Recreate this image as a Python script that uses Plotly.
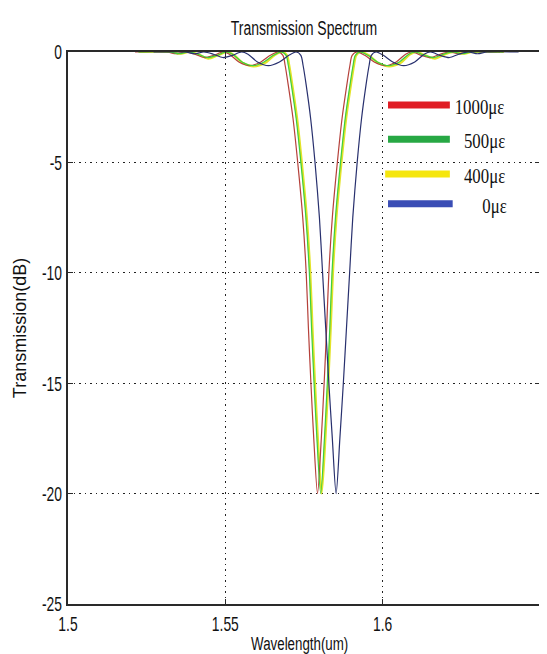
import plotly.graph_objects as go

# ---- data ----
wl_1000 = [1.5213, 1.5313, 1.5343, 1.5373, 1.5403, 1.5433, 1.5463, 1.5493, 1.5513, 1.5543,
           1.5578, 1.5613, 1.5643, 1.5668, 1.5683, 1.5690, 1.5700, 1.5715, 1.5730, 1.5746,
           1.5757, 1.5764, 1.5772, 1.5781, 1.5793, 1.5805, 1.5814, 1.5822, 1.5829, 1.5840,
           1.5856, 1.5871, 1.5886, 1.5896, 1.5903, 1.5918, 1.5943, 1.5973, 1.6008, 1.6043,
           1.6073, 1.6093, 1.6123, 1.6153, 1.6183, 1.6213, 1.6243, 1.6273, 1.6373]
wl_500 = [1.5223, 1.5323, 1.5353, 1.5383, 1.5413, 1.5443, 1.5473, 1.5503, 1.5523, 1.5553,
          1.5588, 1.5623, 1.5653, 1.5678, 1.5693, 1.5700, 1.5710, 1.5725, 1.5740, 1.5756,
          1.5767, 1.5774, 1.5782, 1.5791, 1.5803, 1.5815, 1.5824, 1.5832, 1.5839, 1.5850,
          1.5866, 1.5881, 1.5896, 1.5906, 1.5913, 1.5928, 1.5953, 1.5983, 1.6018, 1.6053,
          1.6083, 1.6103, 1.6133, 1.6163, 1.6193, 1.6223, 1.6253, 1.6283, 1.6383]
wl_400 = [1.5226, 1.5326, 1.5356, 1.5386, 1.5416, 1.5446, 1.5476, 1.5506, 1.5526, 1.5556,
          1.5591, 1.5626, 1.5656, 1.5681, 1.5696, 1.5703, 1.5713, 1.5728, 1.5743, 1.5759,
          1.5770, 1.5777, 1.5785, 1.5794, 1.5806, 1.5818, 1.5827, 1.5835, 1.5842, 1.5853,
          1.5869, 1.5884, 1.5899, 1.5909, 1.5916, 1.5931, 1.5956, 1.5986, 1.6021, 1.6056,
          1.6086, 1.6106, 1.6136, 1.6166, 1.6196, 1.6226, 1.6256, 1.6286, 1.6386]
wl_0 = [1.5272, 1.5372, 1.5402, 1.5432, 1.5462, 1.5492, 1.5522, 1.5552, 1.5572, 1.5602,
        1.5637, 1.5672, 1.5702, 1.5725, 1.5740, 1.5747, 1.5757, 1.5771, 1.5785, 1.5799,
        1.5809, 1.5819, 1.5829, 1.5840, 1.5852, 1.5864, 1.5875, 1.5885, 1.5895, 1.5905,
        1.5919, 1.5933, 1.5947, 1.5957, 1.5964, 1.5979, 1.6002, 1.6032, 1.6067, 1.6102,
        1.6132, 1.6152, 1.6182, 1.6212, 1.6242, 1.6272, 1.6302, 1.6332, 1.6432]

db_1000 = [0, 0, -0.08, 0, -0.1, -0.25, -0.15, 0, -0.1, -0.45, -0.62, -0.45, -0.15, 0, -0.15,
           -0.6, -1.5, -3, -5, -7.5, -10, -12.5, -15, -17.5, -20, -17.5, -15, -12.5, -10, -7.5,
           -5, -3, -1.5, -0.6, -0.15, 0, -0.15, -0.45, -0.62, -0.45, -0.1, 0, -0.15, -0.25,
           -0.1, 0, -0.08, 0, 0]
db_500 = [0, 0, -0.08, 0, -0.1, -0.25, -0.15, 0, -0.1, -0.45, -0.62, -0.45, -0.15, 0, -0.15,
          -0.6, -1.5, -3, -5, -7.5, -10, -12.5, -15, -17.5, -20, -17.5, -15, -12.5, -10, -7.5,
          -5, -3, -1.5, -0.6, -0.15, 0, -0.15, -0.45, -0.62, -0.45, -0.1, 0, -0.15, -0.25,
          -0.1, 0, -0.08, 0, 0]
db_400 = [0, 0, -0.08, 0, -0.12, -0.3, -0.15, 0, -0.12, -0.5, -0.65, -0.5, -0.15, 0, -0.15,
          -0.6, -1.5, -3, -5, -7.5, -10, -12.5, -15, -17.5, -20, -17.5, -15, -12.5, -10, -7.5,
          -5, -3, -1.5, -0.6, -0.15, 0, -0.15, -0.5, -0.65, -0.5, -0.12, 0, -0.15, -0.3,
          -0.12, 0, -0.08, 0, 0]
db_0 = [0, 0, -0.08, 0, -0.1, -0.25, -0.15, 0, -0.1, -0.45, -0.62, -0.45, -0.15, 0, -0.15,
        -0.6, -1.5, -3, -5, -7.5, -10, -12.5, -15, -17.5, -20, -17.5, -15, -12.5, -10, -7.5,
        -5, -3, -1.5, -0.6, -0.15, 0, -0.15, -0.45, -0.62, -0.45, -0.1, 0, -0.15, -0.25,
        -0.1, 0, -0.08, 0, 0]

x_ticks = [1.5, 1.55, 1.6, 1.65]
x_tick_labels = ["1.5", "1.55", "1.6", "1.65"]
y_ticks = [0, -5, -10, -15, -20, -25]
y_tick_labels = ["0", "-5", "-10", "-15", "-20", "-25"]
legend_labels = ["1000\u03bc\u03b5", "500\u03bc\u03b5", "400\u03bc\u03b5", "0\u03bc\u03b5"]
x_title = "Wavelength(um)"
y_title = "Transmission(dB)"
chart_title = "Transmission Spectrum"

# ---- styling ----
SANS = "Liberation Sans, Arial, sans-serif"
SERIF = "Liberation Serif, Times New Roman, serif"
curve_colors = {"1000": "#b5403a", "500": "#3ecf3e", "400": "#e3e32a", "0": "#28306e"}
legend_colors = ["#e01c24", "#27a844", "#f5e60e", "#3a4db5"]

fig = go.Figure()
series = [("400", wl_400, db_400, 2.2), ("1000", wl_1000, db_1000, 1.2),
          ("500", wl_500, db_500, 1.2), ("0", wl_0, db_0, 1.2)]
for key, xs, ys, w in series:
    fig.add_trace(go.Scatter(x=xs, y=ys, mode="lines",
                             line=dict(color=curve_colors[key], width=w, shape="spline", smoothing=0.8),
                             showlegend=False, hoverinfo="skip"))

axis_common = dict(showline=True, linecolor="#2a2a2a", linewidth=1.6, mirror="ticks",
                   ticks="inside", ticklen=5, tickcolor="#2a2a2a", automargin=False,
                   showgrid=True, gridcolor="#222222", griddash="1.5px,4px", gridwidth=1.2,
                   zeroline=False, tickfont=dict(family=SANS, size=21, color="#111111"))

fig.update_xaxes(range=[1.5, 1.65], tickvals=x_ticks, ticktext=x_tick_labels, **axis_common)
fig.update_yaxes(range=[-25, 0], tickvals=y_ticks, ticktext=y_tick_labels,
                 title=dict(text=y_title, font=dict(family=SANS, size=18, color="#111111"),
                            standoff=0),
                 **axis_common)

# manual legend (drawn like the reference)
leg_y = [0.904, 0.842, 0.779, 0.725]
leg_x0 = [0.678, 0.678, 0.672, 0.678]
leg_x1 = [0.809, 0.809, 0.809, 0.815]
shapes = []
annotations = []
for i, lab in enumerate(legend_labels):
    shapes.append(dict(type="line", xref="paper", yref="paper", x0=leg_x0[i], x1=leg_x1[i],
                       y0=leg_y[i], y1=leg_y[i], line=dict(color=legend_colors[i], width=7)))
    annotations.append(dict(xref="paper", yref="paper", x=0.938, y=leg_y[i] - 0.004,
                            xanchor="right", yanchor="middle", showarrow=False, text=lab,
                            font=dict(family=SERIF, size=20, color="#111111")))

# x-axis title placed as a text under the tick labels
annotations.append(dict(xref="paper", yref="paper", x=0.49, y=-0.073, xanchor="center",
                        yanchor="middle", showarrow=False, text=x_title, borderpad=0,
                        font=dict(family=SANS, size=18, color="#111111")))

fig.update_layout(
    width=547, height=654,
    margin=dict(l=60, r=15, t=44, b=58, autoexpand=False),
    paper_bgcolor="white", plot_bgcolor="white",
    title=dict(text=chart_title, x=0.5, xref="paper", y=0.969, yref="container",
               xanchor="center", yanchor="middle",
               font=dict(family=SANS, size=20, color="#111111")),
    shapes=shapes, annotations=annotations, showlegend=False,
)

# The reference picture is horizontally squeezed: condense the horizontal texts the same way.
post = """
var gd = document.getElementById('{plot_id}');
function squeezeTexts(){
  var items = gd.querySelectorAll('g.xtick text, g.ytick text, text.gtitle, text.annotation-text');
  items.forEach(function(t){
    if (t.getAttribute('data-sq')) return;
    var f = 0.70;
    if (t.classList.contains('annotation-text')) {
      f = (t.textContent.indexOf('Wavelength') === 0) ? 0.74 : 0.84;
    } else if (t.closest('g.xtick') || t.closest('g.ytick')) f = 0.66;
    var L = t.getComputedTextLength();
    if (L > 0) {
      t.setAttribute('textLength', (L * f).toFixed(2));
      t.setAttribute('lengthAdjust', 'spacingAndGlyphs');
      t.setAttribute('data-sq', '1');
    }
  });
}
squeezeTexts();
"""

fig.write_html("out.html", post_script=post)
